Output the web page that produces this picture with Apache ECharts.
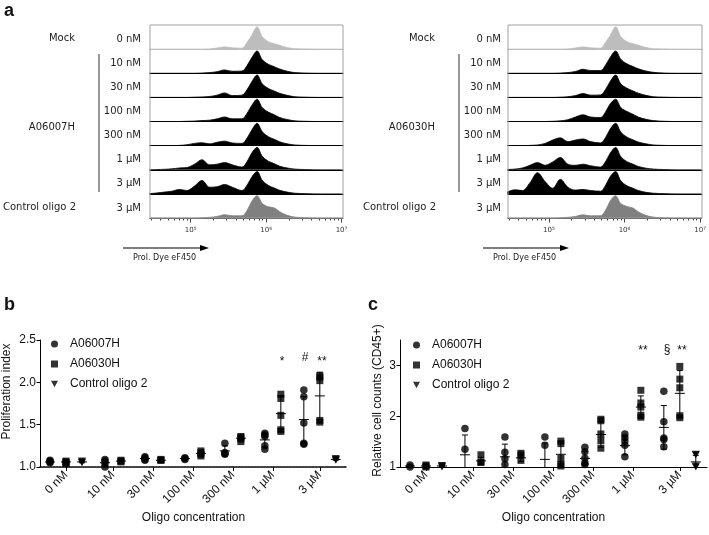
<!DOCTYPE html>
<html>
<head>
<meta charset="utf-8">
<script src="https://cdn.jsdelivr.net/npm/echarts@6/dist/echarts.min.js"></script>
<style>
html, body { margin: 0; padding: 0; background: #fff; }
#main { width: 709px; height: 535px; }
</style>
</head>
<body>
<div id="main"></div>
<script>
// ---- panel a : histograms (x = log10 of Prol. Dye eF450) ----
var histX = [4.45, 4.55, 4.65, 4.75, 4.85, 4.95, 5.05, 5.15, 5.25, 5.35, 5.45, 5.55, 5.68, 5.75, 5.81, 5.88, 5.95, 6.03, 6.11, 6.18, 6.28, 6.38, 6.52, 6.7, 7.02];
var rowLabels = ['0 nM', '10 nM', '30 nM', '100 nM', '300 nM', '1 µM', '3 µM', '3 µM'];

// A06007H panel
var h07Mock  = [0, 0, 0, 0, 0, 0, 0, 0, 0.01, 0.05, 0.1, 0.06, 0.04, 0.32, 0.62, 1, 0.55, 0.33, 0.24, 0.17, 0.07, 0.02, 0.01, 0, 0];
var h07n10   = [0, 0, 0, 0, 0, 0, 0, 0.01, 0.03, 0.07, 0.15, 0.09, 0.1, 0.36, 0.7, 1, 0.6, 0.4, 0.29, 0.19, 0.09, 0.03, 0.01, 0, 0];
var h07n30   = [0, 0, 0, 0, 0, 0, 0.01, 0.02, 0.04, 0.1, 0.2, 0.08, 0.1, 0.36, 0.7, 1, 0.6, 0.4, 0.28, 0.18, 0.09, 0.03, 0.01, 0, 0];
var h07n100  = [0, 0, 0, 0, 0, 0.01, 0.02, 0.04, 0.06, 0.12, 0.2, 0.12, 0.12, 0.38, 0.72, 1, 0.62, 0.42, 0.3, 0.18, 0.09, 0.03, 0.01, 0, 0];
var h07n300  = [0, 0, 0, 0, 0.01, 0.04, 0.1, 0.13, 0.08, 0.15, 0.2, 0.12, 0.1, 0.35, 0.7, 1, 0.62, 0.4, 0.28, 0.17, 0.08, 0.03, 0.01, 0, 0];
var h07u1    = [0, 0.01, 0.02, 0.04, 0.08, 0.1, 0.25, 0.45, 0.22, 0.25, 0.32, 0.22, 0.12, 0.38, 0.75, 1, 0.6, 0.38, 0.27, 0.16, 0.08, 0.03, 0.01, 0, 0];
var h07u3    = [0.01, 0.04, 0.08, 0.12, 0.2, 0.15, 0.35, 0.6, 0.3, 0.32, 0.42, 0.3, 0.15, 0.4, 0.75, 1, 0.6, 0.38, 0.26, 0.16, 0.08, 0.03, 0.01, 0, 0];
var h07Ctrl  = [0, 0, 0, 0, 0, 0, 0, 0.01, 0.03, 0.07, 0.15, 0.1, 0.1, 0.35, 0.75, 1, 0.65, 0.5, 0.45, 0.28, 0.12, 0.04, 0.01, 0, 0];

// A06030H panel
var h30Mock  = [0, 0, 0, 0, 0, 0, 0, 0, 0.01, 0.05, 0.1, 0.06, 0.04, 0.32, 0.62, 1, 0.55, 0.33, 0.24, 0.17, 0.07, 0.02, 0.01, 0, 0];
var h30n10   = [0, 0, 0, 0, 0, 0, 0, 0.01, 0.03, 0.08, 0.18, 0.12, 0.12, 0.38, 0.72, 1, 0.62, 0.42, 0.3, 0.2, 0.1, 0.04, 0.01, 0, 0];
var h30n30   = [0, 0, 0, 0, 0, 0, 0, 0.01, 0.03, 0.08, 0.17, 0.1, 0.11, 0.37, 0.72, 1, 0.6, 0.41, 0.29, 0.19, 0.09, 0.03, 0.01, 0, 0];
var h30n100  = [0, 0, 0, 0, 0, 0, 0.01, 0.03, 0.08, 0.2, 0.3, 0.2, 0.18, 0.45, 0.8, 1, 0.62, 0.45, 0.32, 0.2, 0.1, 0.04, 0.01, 0, 0];
var h30n300  = [0, 0, 0, 0.01, 0.03, 0.1, 0.25, 0.35, 0.18, 0.25, 0.3, 0.18, 0.12, 0.38, 0.75, 1, 0.6, 0.38, 0.26, 0.16, 0.08, 0.03, 0.01, 0, 0];
var h30u1    = [0.01, 0.03, 0.08, 0.2, 0.32, 0.2, 0.35, 0.55, 0.25, 0.2, 0.25, 0.18, 0.12, 0.38, 0.75, 1, 0.58, 0.36, 0.25, 0.15, 0.07, 0.03, 0.01, 0, 0];
var h30u3    = [0.08, 0.18, 0.15, 0.5, 0.95, 0.55, 0.25, 0.65, 0.3, 0.17, 0.2, 0.15, 0.12, 0.4, 0.78, 1, 0.58, 0.36, 0.25, 0.15, 0.07, 0.03, 0.01, 0, 0];
var h30Ctrl  = [0, 0, 0, 0, 0, 0, 0, 0.01, 0.03, 0.07, 0.14, 0.1, 0.1, 0.35, 0.75, 1, 0.65, 0.52, 0.45, 0.28, 0.12, 0.04, 0.01, 0, 0];

// ---- panels b and c ----
var concLabels = ['0 nM', '10 nM', '30 nM', '100 nM', '300 nM', '1 µM', '3 µM'];

// b: proliferation index
var prolA06007H = [[1.05, 1.06, 1.07, 1.08], [1.0, 1.04, 1.07, 1.09], [1.08, 1.09, 1.11, 1.12], [1.09, 1.1, 1.11], [1.15, 1.16, 1.17, 1.28], [1.21, 1.25, 1.36, 1.38, 1.4], [1.27, 1.28, 1.52, 1.83, 1.91]];
var prolA06030H = [[1.04, 1.05, 1.06, 1.07], [1.06, 1.07, 1.08], [1.08, 1.08, 1.09], [1.13, 1.15, 1.17, 1.19], [1.3, 1.33, 1.35, 1.36], [1.42, 1.44, 1.61, 1.81, 1.86], [1.53, 1.55, 2.02, 2.06, 2.08]];
var prolControl = [[1.05, 1.06, 1.07], [], [], [], [], [], [1.08, 1.09, 1.1]];
var prolMeanA06007H = [1.06, 1.05, 1.1, 1.1, 1.19, 1.32, 1.56];
var prolSdA06007H   = [0.01, 0.04, 0.02, 0.01, 0.06, 0.08, 0.27];
var prolMeanA06030H = [1.06, 1.07, 1.08, 1.16, 1.34, 1.63, 1.84];
var prolSdA06030H   = [0.02, 0.01, 0.01, 0.03, 0.03, 0.21, 0.28];
var prolMeanControl = [1.06, null, null, null, null, null, 1.09];
var prolSdControl   = [0.01, null, null, null, null, null, 0.01];

// c: relative cell counts (CD45+)
var cntA06007H = [[1.0, 1.04], [1.35, 1.76], [1.05, 1.16, 1.29, 1.59], [1.43, 1.59], [1.05, 1.08, 1.17, 1.3, 1.39], [1.2, 1.43, 1.51, 1.58, 1.65], [1.4, 1.54, 1.57, 1.89, 2.49]];
var cntA06030H = [[1.0, 1.02, 1.04], [1.09, 1.1, 1.24], [1.13, 1.24, 1.27], [1.02, 1.05, 1.17, 1.46, 1.51], [1.37, 1.52, 1.65, 1.91, 1.94], [1.98, 2.02, 2.18, 2.26, 2.51], [1.97, 2.01, 2.56, 2.73, 2.98]];
var cntControl = [[1.0, 1.02, 1.03], [], [], [], [], [], [1.0, 1.02, 1.24, 1.25]];
var cntMeanA06007H = [1.02, 1.24, 1.2, 1.15, 1.17, 1.42, 1.78];
var cntSdA06007H   = [0.02, 0.39, 0.25, 0.32, 0.13, 0.18, 0.43];
var cntMeanA06030H = [1.02, 1.12, 1.18, 1.25, 1.64, 2.18, 2.45];
var cntSdA06030H   = [0.02, 0.07, 0.07, 0.25, 0.25, 0.22, 0.45];
var cntMeanControl = [1.02, null, null, null, null, null, 1.1];
var cntSdControl   = [0.01, null, null, null, null, null, 0.13];

var groupNames = ['A06007H', 'A06030H', 'Control oligo 2'];
var groupSymbols = ['circle', 'rect', 'path://M0,0L10,0L5,9Z'];

// ---- layout ----
var histMin = 4.46, histMax = 7.02;
var rowH = 24.125, boxTop = 25;
var tickPos = [0, 1.175, 2.175, 3.175, 4.175, 5.175, 6.35];
var fontA = '"DejaVu Sans", sans-serif';
var fontB = '"Liberation Sans", Arial, sans-serif';

var minorTicks = [];
for (var n = 4; n <= 6; n++) {
	for (var k = 2; k <= 9; k++) {
		var lv = n + Math.log10(k);
		if (lv > histMin && lv < histMax) minorTicks.push(lv);
	}
}

var grids = [], xAxes = [], yAxes = [], series = [], graphics = [];

function addHistPanel(left, width, rows, drugName, offsetX) {
	for (var i = 0; i < rows.length; i++) {
		var last = (i == rows.length - 1);
		var color = i == 0 ? '#bdbdbd' : (last ? '#808080' : '#000');
		var g = grids.length;
		grids.push({ left: left, width: width, top: boxTop + i * rowH, height: rowH });
		xAxes.push({
			gridIndex: g, type: 'value', min: histMin, max: histMax,
			axisLine: { show: true, onZero: false, lineStyle: { color: last ? '#444' : color, width: 1 } },
			axisTick: { show: last, customValues: minorTicks, length: 2.5, lineStyle: { color: '#444' } },
			axisLabel: {
				show: last, customValues: [5, 6, 7], margin: 9,
				formatter: function (v) { return '10' + ['⁵', '⁶', '⁷'][Math.round(v) - 5]; },
				fontSize: 7, fontFamily: fontA, color: '#333'
			},
			splitLine: { show: false }
		});
		if (last) {
			// longer ticks at the decades
			xAxes.push({
				gridIndex: g, type: 'value', min: histMin, max: histMax, position: 'bottom',
				axisLine: { show: false, onZero: false },
				axisTick: { show: true, customValues: [5, 6, 7], length: 4.5, lineStyle: { color: '#444' } },
				axisLabel: { show: false }, splitLine: { show: false }
			});
		}
		yAxes.push({ gridIndex: g, type: 'value', min: 0, max: 1.08, show: false });
		series.push({
			type: 'line', xAxisIndex: xAxes.length - (last ? 2 : 1), yAxisIndex: yAxes.length - 1,
			data: histX.map(function (x, j) { return [x, rows[i][j]]; }),
			smooth: 0.35, symbol: 'none', silent: true,
			lineStyle: { color: color, width: 0.8 },
			areaStyle: { color: color, opacity: 1 }
		});
		graphics.push({
			type: 'text', x: offsetX + 141, y: boxTop + (i + 0.5) * rowH + 2,
			style: { text: rowLabels[i], font: '10px ' + fontA, fill: '#222', align: 'right', verticalAlign: 'middle' }
		});
	}
	// frame
	graphics.push({
		type: 'rect', shape: { x: left, y: boxTop, width: width, height: rows.length * rowH },
		style: { fill: null, stroke: '#a0a0a0', lineWidth: 1 }, z: 10
	});
	graphics.push({ type: 'text', x: offsetX + 75, y: boxTop + 0.5 * rowH + 1,
		style: { text: 'Mock', font: '10px ' + fontA, fill: '#222', align: 'right', verticalAlign: 'middle' } });
	graphics.push({ type: 'text', x: offsetX + 75, y: 127,
		style: { text: drugName, font: '10px ' + fontA, fill: '#222', align: 'right', verticalAlign: 'middle' } });
	graphics.push({ type: 'text', x: offsetX + 3, y: 207,
		style: { text: 'Control oligo 2', font: '10px ' + fontA, fill: '#222', align: 'left', verticalAlign: 'middle' } });
	graphics.push({ type: 'line', shape: { x1: offsetX + 99, y1: 54, x2: offsetX + 99, y2: 192 },
		style: { stroke: '#555', lineWidth: 1.2 } });
	// arrow
	var ax = offsetX + 123;
	graphics.push({ type: 'line', shape: { x1: ax, y1: 248, x2: ax + 80, y2: 248 }, style: { stroke: '#000', lineWidth: 1.2 } });
	graphics.push({ type: 'polygon', shape: { points: [[ax + 77, 245], [ax + 86, 248], [ax + 77, 251]] }, style: { fill: '#000' } });
	graphics.push({ type: 'text', x: ax + 10, y: 258,
		style: { text: 'Prol. Dye eF450', font: '8px ' + fontA, fill: '#222', align: 'left', verticalAlign: 'middle' } });
}

addHistPanel(150, 193, [h07Mock, h07n10, h07n30, h07n100, h07n300, h07u1, h07u3, h07Ctrl], 'A06007H', 0);
addHistPanel(508, 194, [h30Mock, h30n10, h30n30, h30n100, h30n300, h30u1, h30u3, h30Ctrl], 'A06030H', 360);

function colX(groupIdx, concIdx) {
	var three = (concIdx == 0 || concIdx == 6);
	var off = three ? [-0.4, 0, 0.4][groupIdx] : [-0.2, 0.2, 0][groupIdx];
	return tickPos[concIdx] + off;
}

function meanSdRenderer(yMin) {
	return function (params, api) {
		var x = api.value(0), m = api.value(1), sd = api.value(2);
		var c = api.coord([x, m]);
		var top = api.coord([x, m + sd]);
		var lowClamped = m - sd < yMin;
		var bot = api.coord([x, Math.max(m - sd, yMin)]);
		var st = { stroke: '#000', lineWidth: 1 };
		var ch = [
			{ type: 'line', shape: { x1: c[0] - 5, y1: c[1], x2: c[0] + 5, y2: c[1] }, style: st },
			{ type: 'line', shape: { x1: c[0], y1: top[1], x2: c[0], y2: bot[1] }, style: st },
			{ type: 'line', shape: { x1: c[0] - 3, y1: top[1], x2: c[0] + 3, y2: top[1] }, style: st }
		];
		if (!lowClamped) ch.push({ type: 'line', shape: { x1: c[0] - 3, y1: bot[1], x2: c[0] + 3, y2: bot[1] }, style: st });
		return { type: 'group', children: ch };
	};
}

function addScatterPanel(left, right, yCfg, name, nameGap, namePad, pts, means, sds) {
	var g = grids.length;
	grids.push({ left: left, right: right, top: 340, bottom: 68 });
	xAxes.push({
		gridIndex: g, type: 'value', min: -0.65, max: 7.03,
		axisLine: { onZero: false, lineStyle: yCfg.xLine },
		axisTick: { customValues: tickPos, length: 4, lineStyle: { color: '#000', width: 1 } },
		axisLabel: {
			customValues: tickPos, rotate: 45, margin: 6, fontSize: 12, fontFamily: fontB, color: '#111',
			formatter: function (v) {
				for (var i = 0; i < tickPos.length; i++) if (Math.abs(tickPos[i] - v) < 1e-6) return concLabels[i];
				return '';
			}
		},
		splitLine: { show: false },
		name: 'Oligo concentration', nameLocation: 'middle', nameGap: 45,
		nameTextStyle: { fontSize: 12, fontFamily: fontB, color: '#111' }
	});
	var xi = xAxes.length - 1;
	yAxes.push({
		gridIndex: g, type: 'value', min: yCfg.min, max: yCfg.max, interval: yCfg.interval,
		axisLine: { show: true, onZero: false, lineStyle: { color: '#000' } },
		axisTick: { show: true, length: 3.5, customValues: yCfg.ticks, lineStyle: { color: '#000' } },
		axisLabel: { customValues: yCfg.ticks, formatter: yCfg.fmt, margin: 4, fontSize: 12, fontFamily: fontB, color: '#111' },
		splitLine: { show: false },
		name: name, nameLocation: 'middle', nameGap: nameGap,
		nameTextStyle: { fontSize: 12, fontFamily: fontB, color: '#111', padding: namePad }
	});
	var yi = yAxes.length - 1;
	for (var gi = 0; gi < 3; gi++) {
		var data = [], ms = [];
		for (var c = 0; c < concLabels.length; c++) {
			pts[gi][c].forEach(function (v) { data.push([colX(gi, c), v]); });
			if (means[gi][c] != null) ms.push([colX(gi, c), means[gi][c], sds[gi][c]]);
		}
		series.push({
			type: 'scatter', name: groupNames[gi], xAxisIndex: xi, yAxisIndex: yi,
			symbol: groupSymbols[gi], symbolSize: gi == 1 ? 7 : (gi == 2 ? [8, 7] : 7.5),
			itemStyle: { color: '#000' }, data: data, z: 3
		});
		series.push({
			type: 'custom', name: 'sd' + gi, xAxisIndex: xi, yAxisIndex: yi,
			renderItem: meanSdRenderer(yCfg.min), data: ms, z: 4, silent: true
		});
	}
}

addScatterPanel(40, 362,
	{ min: 1, max: 2.5, interval: 0.5, ticks: [1, 1.5, 2, 2.5],
	  fmt: function (v) { return v.toFixed(1); },
	  xLine: { color: '#000', width: 1.6, type: [2, 1.2] } },
	'Proliferation index', 27, [0, 0, 0, 24],
	[prolA06007H, prolA06030H, prolControl],
	[prolMeanA06007H, prolMeanA06030H, prolMeanControl],
	[prolSdA06007H, prolSdA06030H, prolSdControl]);

addScatterPanel(400, 2,
	{ min: 1, max: 3.5, interval: 1, ticks: [1, 2, 3],
	  fmt: function (v) { return String(v); },
	  xLine: { color: '#000', width: 1 } },
	'Relative cell counts (CD45+)', 16, [0, 0, 0, 6],
	[cntA06007H, cntA06030H, cntControl],
	[cntMeanA06007H, cntMeanA06030H, cntMeanControl],
	[cntSdA06007H, cntSdA06030H, cntSdControl]);

// panel letters and significance marks
function addText(txt, x, y, font, align) {
	graphics.push({ type: 'text', x: x, y: y,
		style: { text: txt, font: font, fill: '#111', align: align || 'center', verticalAlign: 'middle' } });
}
addText('a', 4, 11, 'bold 18px ' + fontB, 'left');
addText('b', 4, 305, 'bold 18px ' + fontB, 'left');
addText('c', 368, 305, 'bold 18px ' + fontB, 'left');
addText('*', 282, 362, '12px ' + fontB);
addText('#', 305, 358, '12px ' + fontB);
addText('**', 322, 362, '12px ' + fontB);
addText('**', 643, 351, '12px ' + fontB);
addText('§', 667, 350, '12px ' + fontB);
addText('**', 682, 351, '12px ' + fontB);

var legendBase = {
	orient: 'vertical', itemWidth: 7, itemHeight: 7, itemGap: 8, padding: 0,
	selectedMode: false, data: groupNames,
	textStyle: { fontSize: 12, fontFamily: fontB, color: '#111', padding: [0, 0, 0, 7] }
};

var myChart = echarts.init(document.getElementById('main'));
var option = {
	animation: false,
	backgroundColor: '#fff',
	grid: grids,
	xAxis: xAxes,
	yAxis: yAxes,
	series: series,
	legend: [
		Object.assign({}, legendBase, { left: 51, top: 338 }),
		Object.assign({}, legendBase, { left: 413, top: 339 })
	],
	graphic: graphics
};
myChart.setOption(option);
</script>
</body>
</html>
